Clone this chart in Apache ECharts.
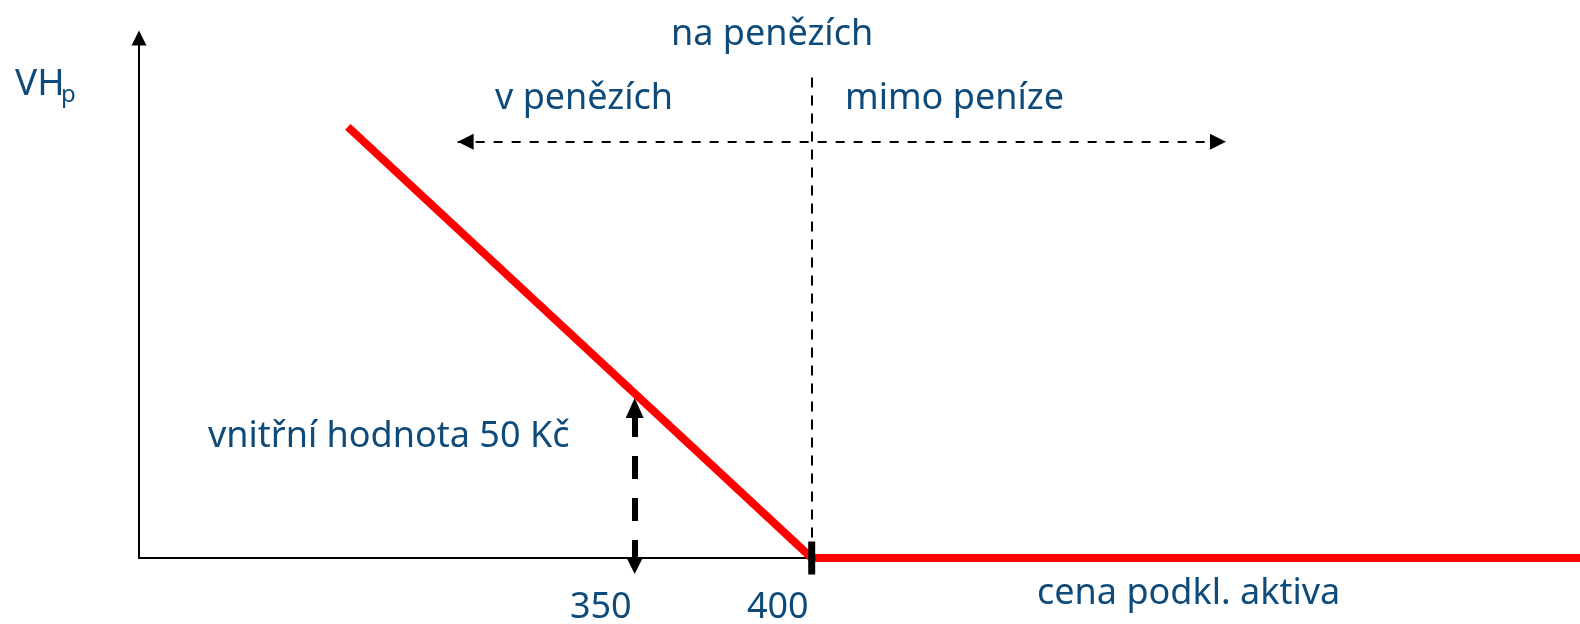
<!DOCTYPE html>
<html><head><meta charset="utf-8">
<script src="https://cdn.jsdelivr.net/npm/echarts@6/dist/echarts.min.js"></script>
<style>html,body{margin:0;padding:0;background:#fff}#c{width:1580px;height:624px}</style>
</head><body><div id="c"></div>
<script>
// ---- data ----
const strike = 400;
const spot = 350;
const intrinsicValue = 50;
const payoffX = [269, 400, 617];
const payoffY = [131, 0, 0];
const xTickLabels = [350, 400];
const moneynessRangeX = [300, 517];
const moneynessRangeY = 126.5;
const strikeGuideTop = 146;
const annotationTexts = ['na penězích', 'v penězích', 'mimo peníze', 'vnitřní hodnota 50 Kč', 'cena podkl. aktiva'];
const yAxisName = ['VH', 'p'];

// ---- style ----
const textColor = '#0e4b7a';
const FONT = '"Noto Sans", "DejaVu Sans", sans-serif';
const FS = 36;

const payoffData = payoffX.map((x, i) => [x, payoffY[i]]);

function label(text, x, baseline, size) {
  return {
    type: 'text', x: x, y: baseline - 0.32 * size, z: 20,
    style: { text: text, fill: textColor, font: size + 'px ' + FONT, align: 'left', verticalAlign: 'middle' }
  };
}

const chart = echarts.init(document.getElementById('c'), null, { renderer: 'canvas' });
chart.setOption({
  animation: false,
  backgroundColor: '#ffffff',
  grid: { left: 139, right: 0, top: 38, bottom: 66, containLabel: false, outerBoundsMode: 'none' },
  xAxis: {
    type: 'value', min: 210, max: 617,
    axisLine: { show: true, lineStyle: { color: '#000', width: 2 } },
    axisTick: { show: false },
    splitLine: { show: false },
    axisLabel: {
      show: true, customValues: xTickLabels, align: 'right', margin: 32,
      padding: [0, 3, 0, 0],
      color: textColor, fontSize: FS, fontFamily: FONT
    }
  },
  yAxis: {
    type: 'value', min: 0, max: 158,
    axisLine: { show: true, lineStyle: { color: '#000', width: 2 }, symbol: ['none', 'triangle'], symbolSize: [15, 15] },
    axisTick: { show: false },
    splitLine: { show: false },
    axisLabel: { show: false }
  },
  series: [
    {
      name: 'intrinsic', type: 'line', data: [], z: 2,
      markLine: {
        silent: true, animation: false, label: { show: false },
        lineStyle: { color: '#000', width: 6, type: [23, 19], dashOffset: 21.5 },
        data: [[
          { coord: [spot, intrinsicValue], symbol: 'triangle', symbolSize: [18, 20], symbolOffset: [0, 14.5] },
          { coord: [spot, 0], symbol: 'triangle', symbolSize: [16, 16], symbolOffset: [0, -8] }
        ]]
      }
    },
    {
      name: 'strikeGuide', type: 'line', data: [], z: 2,
      markLine: {
        silent: true, animation: false, label: { show: false }, symbol: ['none', 'none'],
        lineStyle: { color: '#000', width: 2, type: [10, 8] },
        data: [[ { coord: [strike, strikeGuideTop] }, { coord: [strike, 0] } ]]
      }
    },
    {
      name: 'moneyness', type: 'line', data: [], z: 2,
      markLine: {
        silent: true, animation: false, label: { show: false },
        lineStyle: { color: '#000', width: 2, type: [9, 9] },
        data: [[
          { coord: [moneynessRangeX[0], moneynessRangeY], symbol: 'triangle', symbolSize: [16, 16], symbolOffset: [0, 8] },
          { coord: [moneynessRangeX[1], moneynessRangeY], symbol: 'triangle', symbolSize: [16, 16], symbolOffset: [0, 8] }
        ]]
      }
    },
    {
      name: 'payoff', type: 'line', data: payoffData, z: 5,
      symbol: 'none', lineStyle: { color: '#ff0000', width: 8, cap: 'butt', join: 'miter' },
      itemStyle: { color: '#ff0000' }
    },
    {
      name: 'strikeMark', type: 'scatter', data: [[strike, 0]], z: 6,
      symbol: 'rect', symbolSize: [7, 33], itemStyle: { color: '#000', opacity: 1 }
    }
  ],
  graphic: [
    label(yAxisName[0], 15, 96, 37),
    label(yAxisName[1], 61, 103, 24),
    label(annotationTexts[0], 671, 46, FS),
    label(annotationTexts[1], 495, 110, FS),
    label(annotationTexts[2], 845, 110, FS),
    label(annotationTexts[3], 208, 448, FS),
    label(annotationTexts[4], 1037, 605, FS)
  ]
});
</script>
</body></html>
